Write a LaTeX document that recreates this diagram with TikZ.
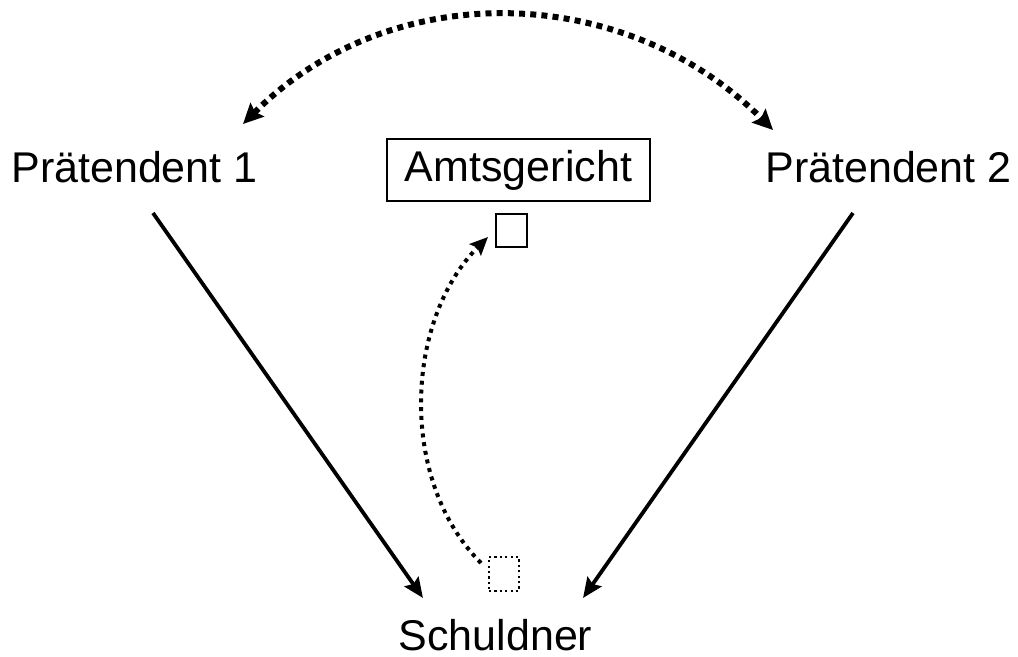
\documentclass[tikz,border=0pt]{standalone}
\usepackage{fontspec}
\setmainfont{Liberation Sans}
\usetikzlibrary{arrows.meta}

\begin{document}
\begin{tikzpicture}[x=0.5pt,y=-0.5pt,
party/.style={font=\fontsize{21.5}{26}\selectfont, inner sep=0pt, anchor=base},
court/.style={draw, line width=0.8pt, minimum width=131.5pt, minimum height=31pt, inner sep=0pt, font=\fontsize{21.5}{26}\selectfont},
doc/.style={draw, line width=1.1pt, minimum width=15.5pt, minimum height=16.5pt, inner sep=0pt},
olddoc/.style={draw, line width=1.1pt, dash pattern=on 1.1pt off 1.6pt, minimum width=15pt, minimum height=17pt, inner sep=0pt},
claim/.style={line width=1.9pt, -{Stealth[length=10pt, width=8.5pt, inset=1.5pt]}},
dispute/.style={line width=3pt, dash pattern=on 3pt off 2.6pt, {Stealth[length=10pt, width=9.5pt, inset=1.5pt]}-{Stealth[length=10pt, width=9.5pt, inset=1.5pt]}},
deposit/.style={line width=2pt, dash pattern=on 2pt off 2.4pt, -{Stealth[length=9pt, width=8pt, inset=1.5pt]}},
]
\useasboundingbox (0,0) rectangle (1018,657);

\node[party] (p1) at (134.5,183) {Prätendent 1};
\node[party] (p2) at (888.5,183) {Prätendent 2};
\node[court] (ag) at (518.5,170) {Amtsgericht};
\node[party] (s) at (495.5,650) {Schuldner};
\node[doc] (doc) at (511.5,230.5) {};
\node[olddoc] (old) at (504,574) {};

% free ends of the connectors
\coordinate (p1out) at (153,213);
\coordinate (p1in) at (423,598);
\coordinate (p2out) at (853,213);
\coordinate (p2in) at (583,598);
\coordinate (p1top) at (243,124);
\coordinate (p2top) at (773,130);
\coordinate (oldout) at (481,563);
\coordinate (docin) at (488,237);

\draw[claim] (p1out) -- (p1in);
\draw[claim] (p2out) -- (p2in);
\draw[dispute] (p1top) .. controls (391,-24) and (625,-18) .. (p2top);
\draw[deposit] (oldout) .. controls (398,480) and (405,320) .. (docin);
\end{tikzpicture}
\end{document}
